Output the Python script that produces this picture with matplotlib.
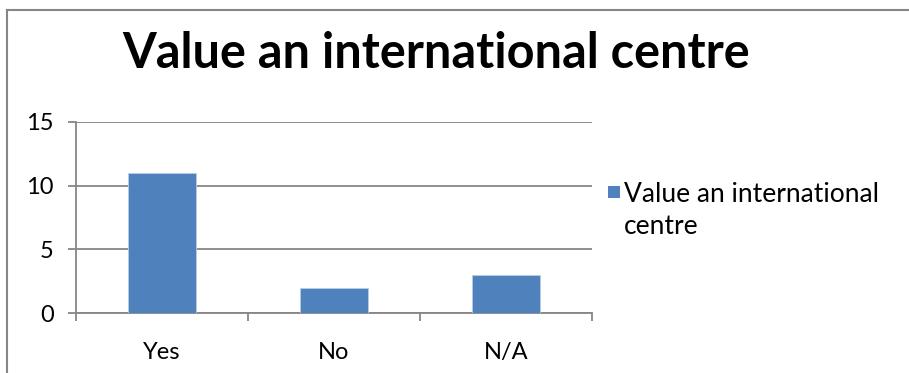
import matplotlib.pyplot as plt
import numpy as np
from matplotlib.patches import Rectangle

plt.rcParams["font.family"] = ["Lato", "DejaVu Sans"]

categories = ["Yes", "No", "N/A"]
counts = [11, 2, 3]
series_name = "Value an international centre"
yticks = [0, 5, 10, 15]

W, H = 909, 373
fig = plt.figure(figsize=(W / 100, H / 100), dpi=100)
# plot area in pixels: x 76..592, y 122..313
ax = fig.add_axes([76 / W, 1 - 313 / H, (592 - 76) / W, (313 - 122) / H])

x = np.arange(len(categories))
ax.bar(x, counts, width=0.4, color="#4F81BD", edgecolor="#B9CDE5",
       linewidth=0.6, zorder=3, label=series_name)

ax.set_xlim(-0.5, len(categories) - 0.5)
ax.set_ylim(0, 15)
ax.set_yticks(yticks)
ax.set_xticks(x)
ax.set_xticklabels(categories)
ax.set_xticks(np.arange(len(categories) + 1) - 0.5, minor=True)

grid_c = "#868686"
ax.yaxis.grid(True, color=grid_c, linewidth=1.3, zorder=0)
for s in ["top", "right"]:
    ax.spines[s].set_visible(False)
for s in ["left", "bottom"]:
    ax.spines[s].set_color(grid_c)
    ax.spines[s].set_linewidth(1.3)
ax.tick_params(axis="y", length=6, width=1.3, color=grid_c, labelsize=17, pad=10)
ax.tick_params(axis="x", which="major", length=0, labelsize=17, pad=21)
ax.tick_params(axis="x", which="minor", length=6, width=1.3, color=grid_c)

fig.suptitle(series_name, x=436 / W, y=1 - 54 / H,
             fontsize=35, fontweight="bold", va="center")

# legend entry on the right
fig.patches.append(Rectangle((608 / W, 1 - 198 / H), 12 / W, 12 / H,
                             transform=fig.transFigure, facecolor="#4F81BD",
                             edgecolor="none"))
fig.text(624 / W, 1 - 210 / H, "Value an international\ncentre",
         fontsize=19, va="center", ha="left", linespacing=1.35)

# outer chart border (runs off the right and bottom edges)
fig.add_artist(plt.Line2D([7 / W, 7 / W], [0, 1 - 10 / H],
                          color=grid_c, linewidth=1.5))
fig.add_artist(plt.Line2D([7 / W, 1], [1 - 10 / H, 1 - 10 / H],
                          color=grid_c, linewidth=1.5))

fig.savefig("out.png", dpi=100)
